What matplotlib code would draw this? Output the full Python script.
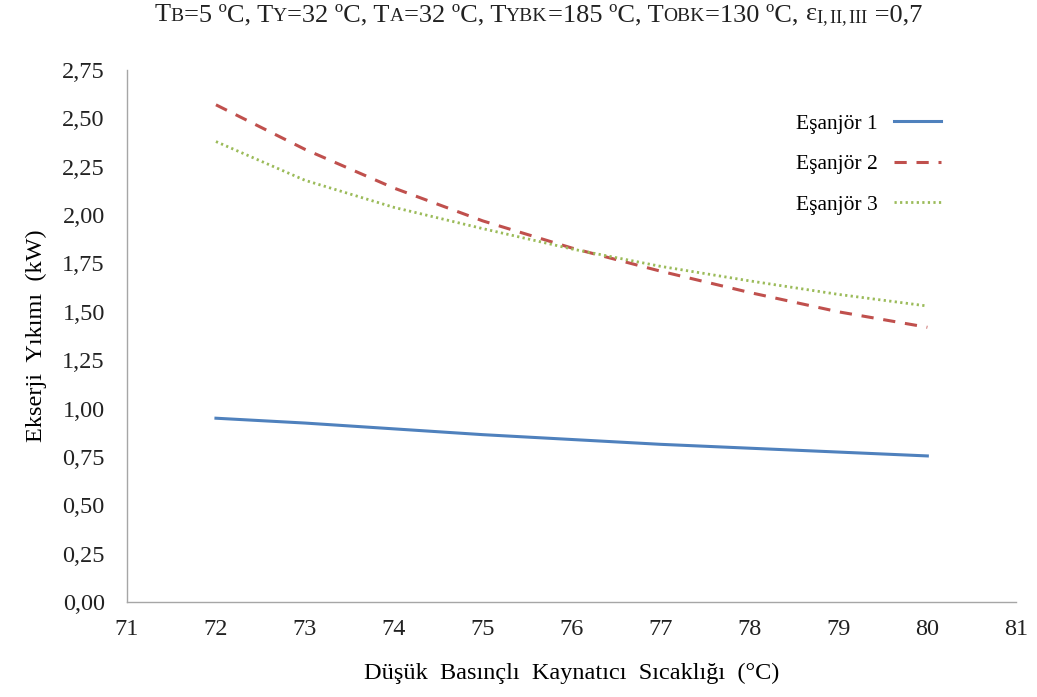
import numpy as np
import matplotlib
matplotlib.use("Agg")
import matplotlib.pyplot as plt
from matplotlib.ticker import FuncFormatter
from matplotlib.offsetbox import TextArea, HPacker, AnchoredOffsetbox

plt.rcParams['font.family'] = ['Liberation Serif', 'DejaVu Serif']
plt.rcParams['mathtext.fontset'] = 'custom'
plt.rcParams['mathtext.rm'] = 'Liberation Serif'
plt.rcParams['mathtext.it'] = 'Liberation Serif:italic'

# data
temps = [72, 73, 74, 75, 76, 77, 78, 79, 80]
esanjor_1 = [0.95, 0.925, 0.895, 0.865, 0.84, 0.815, 0.795, 0.775, 0.755]
esanjor_2 = [2.57, 2.34, 2.14, 1.97, 1.83, 1.71, 1.60, 1.50, 1.42]
esanjor_3 = [2.38, 2.18, 2.04, 1.93, 1.825, 1.735, 1.66, 1.59, 1.53]
labels = ["Eşanjör 1", "Eşanjör 2", "Eşanjör 3"]
x_ticks = list(range(71, 82))
y_ticks = [0.25 * i for i in range(12)]

fig = plt.figure(figsize=(10.37, 6.97), dpi=100)
ax = fig.add_axes([0.1225, 0.1363, 0.8575, 0.7633])

ax.plot(temps, esanjor_1, color="#4F81BD", lw=2.2, label=labels[0])
ax.plot(temps, esanjor_2, color="#C0504D", lw=2.2, ls=(0, (4, 3.2)), label=labels[1])
ax.plot(temps, esanjor_3, color="#9BBB59", lw=2.0, ls=(0, (0.8, 1.2)), label=labels[2])

ax.set_xlim(71, 81)
ax.set_ylim(0, 2.75)
ax.set_xticks(x_ticks)
ax.set_yticks(y_ticks)
ax.yaxis.set_major_formatter(FuncFormatter(lambda v, p: f"{v:.2f}".replace(".", ",")))
ax.tick_params(axis="both", length=0, labelsize=17.5, colors="#222222")
ax.tick_params(axis="x", pad=12)
ax.tick_params(axis="y", pad=16)

for side in ["top", "right"]:
    ax.spines[side].set_visible(False)
for side in ["left", "bottom"]:
    ax.spines[side].set_color("#A6A6A6")
    ax.spines[side].set_linewidth(1.0)

ax.set_xlabel("Düşük  Basınçlı  Kaynatıcı  Sıcaklığı  (°C)", fontsize=17.5, labelpad=17)
ax.set_ylabel("Ekserji  Yıkımı  (kW)", fontsize=17.5, labelpad=11)

ax.legend(loc="upper right", bbox_to_anchor=(0.926, 0.865), bbox_transform=fig.transFigure,
          frameon=False, markerfirst=False, fontsize=15.5, handlelength=2.2,
          labelspacing=0.95, handletextpad=0.75)

# title with small-cap style subscripts
big, small = 19, 14
pieces = [
    ("T", big), ("B", small), ("=5 ºC, T", big), ("Y", small), ("=32 ºC, T", big),
    ("A", small), ("=32 ºC, T", big), ("YBK", small), ("=185 ºC, T", big),
    ("OBK", small), ("=130 ºC, ", big), (r"ε$_{\mathrm{I,II,III}}$", big), (" =0,7", big),
]
areas = [TextArea(t, textprops=dict(fontsize=s, color="#222222")) for t, s in pieces]
title = HPacker(children=areas, align="baseline", pad=0, sep=0)
box = AnchoredOffsetbox(loc="center", child=title, bbox_to_anchor=(0.519, 0.976),
                        bbox_transform=fig.transFigure, frameon=False, pad=0, borderpad=0)
fig.add_artist(box)

fig.savefig("out.png", dpi=100)
